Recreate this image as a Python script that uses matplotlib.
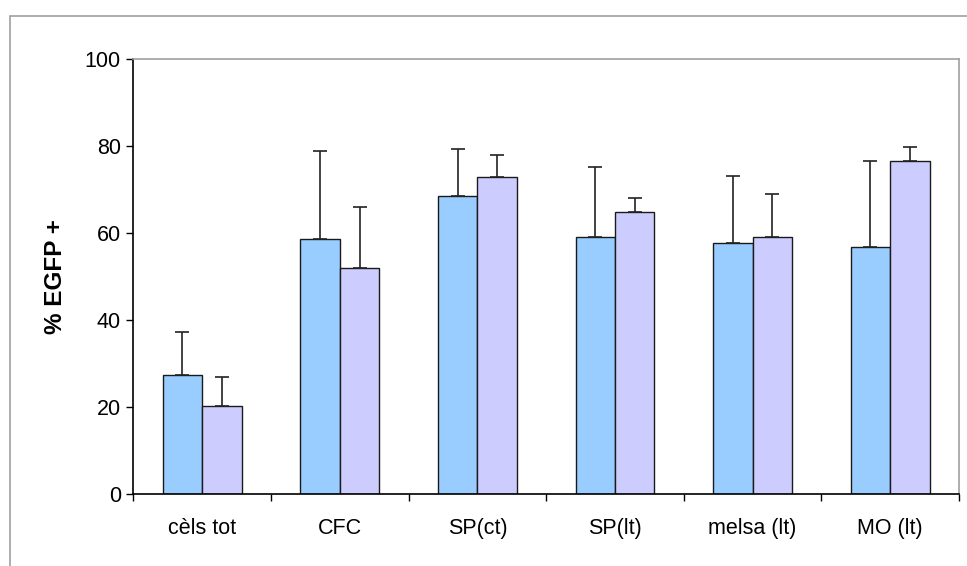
import numpy as np
import matplotlib
matplotlib.use('Agg')
from matplotlib import pyplot as plt
from matplotlib.patches import Rectangle

plt.rcParams['font.family'] = ['Liberation Sans', 'DejaVu Sans']

categories = ['cèls tot', 'CFC', 'SP(ct)', 'SP(lt)', 'melsa (lt)', 'MO (lt)']
blue_vals = [27.4, 58.6, 68.4, 59.0, 57.6, 56.7]
blue_err = [9.8, 20.3, 10.9, 16.1, 15.6, 19.9]
purple_vals = [20.3, 52.0, 72.8, 64.8, 59.0, 76.6]
purple_err = [6.5, 14.0, 5.1, 3.2, 9.9, 3.2]
yticks = [0, 20, 40, 60, 80, 100]

fig = plt.figure(figsize=(9.67, 5.66), dpi=100)
ax = fig.add_axes([0.138, 0.1272, 0.8537, 0.7686])

x = np.arange(len(categories))
w = 0.287

## barras azul e lilas com erro so para cima
ax.bar(x - w/2, blue_vals, w, color='#99CCFF', edgecolor='#1a1a1a', linewidth=1.0, zorder=2)
ax.bar(x + w/2, purple_vals, w, color='#CCCCFF', edgecolor='#1a1a1a', linewidth=1.0, zorder=2)
ax.errorbar(x - w/2, blue_vals, yerr=[np.zeros(len(x)), blue_err], fmt='none',
            ecolor='#222222', elinewidth=1.2, capsize=5, capthick=1.2, zorder=3)
ax.errorbar(x + w/2, purple_vals, yerr=[np.zeros(len(x)), purple_err], fmt='none',
            ecolor='#222222', elinewidth=1.2, capsize=5, capthick=1.2, zorder=3)

ax.set_xlim(-0.5, len(categories) - 0.5)
ax.set_ylim(0, 100)
ax.set_yticks(yticks)
ax.set_yticklabels([str(t) for t in yticks], fontsize=15.5)

## ticks do eixo x nas divisas entre categorias, rotulos no centro
ax.set_xticks(np.arange(len(categories) + 1) - 0.5)
ax.set_xticklabels([])
ax.set_xticks(x, minor=True)
ax.set_xticklabels(categories, minor=True, fontsize=15.5)
ax.tick_params(axis='x', which='minor', length=0, pad=17)
ax.tick_params(axis='x', which='major', direction='out', length=5, width=1, color='black')
ax.tick_params(axis='y', direction='out', length=5, width=1, pad=4)

ax.set_ylabel('% EGFP +', fontsize=17.5, fontweight='bold', labelpad=13)

for s in ['left', 'bottom']:
    ax.spines[s].set_color('black')
    ax.spines[s].set_linewidth(1.2)
for s in ['top', 'right']:
    ax.spines[s].set_color('#a0a0a0')
    ax.spines[s].set_linewidth(1.2)

## moldura externa cinza
fig.patches.append(Rectangle((10/967, -0.05), 1.1, 1 - 16/566 + 0.05, transform=fig.transFigure,
                             fill=False, edgecolor='#a0a0a0', linewidth=1.2))

fig.savefig('out.png', dpi=100)
